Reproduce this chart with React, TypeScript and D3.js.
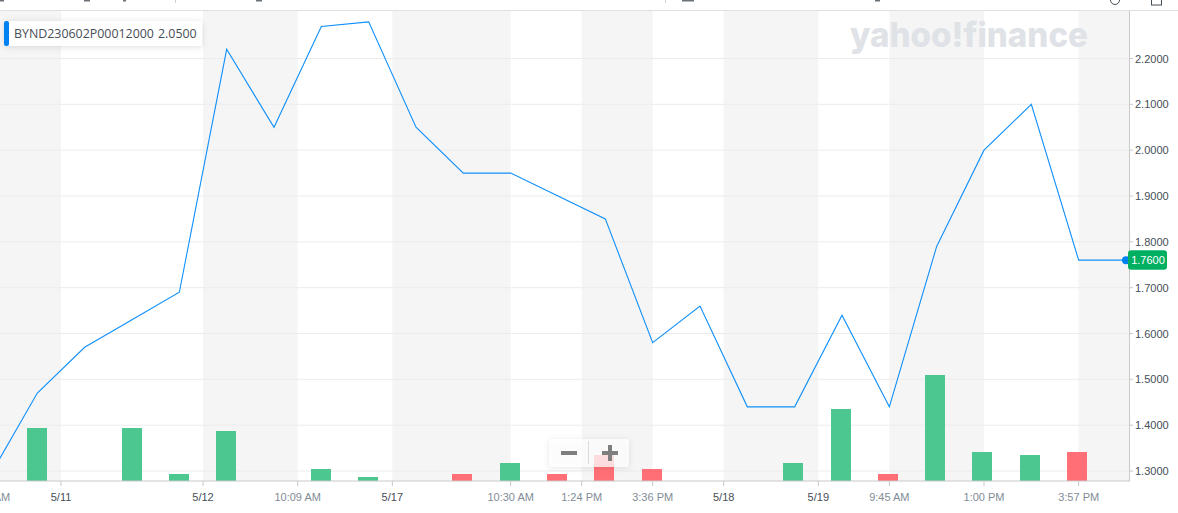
import * as d3 from "d3";
import { useEffect, useRef } from "react";

const w = 1178;
const h = 513;

const lineValues = [1.29, 1.47, 1.57, 1.63, 1.69, 2.22, 2.05, 2.27, 2.28, 2.05, 1.95, 1.95, 1.9, 1.85, 1.58, 1.66, 1.44, 1.44, 1.64, 1.44, 1.79, 2.0, 2.1, 1.76, 1.76];

const volumeSlots = [1, 3, 4, 5, 7, 8, 10, 11, 12, 13, 14, 17, 18, 19, 20, 21, 22, 23];
const volumeValues = [15, 15, 2, 14.2, 3.4, 1.2, 2, 5.1, 2, 7.4, 3.4, 5.1, 20.4, 2, 30, 8.2, 7.4, 8.2];
const volumeUp = [true, true, true, true, true, true, false, true, false, false, false, true, true, false, true, true, true, false];

const yTicks = [1.3, 1.4, 1.5, 1.6, 1.7, 1.8, 1.9, 2.0, 2.1, 2.2];

const xTickSlots = [0, 1.5, 4.5, 6.5, 8.5, 11, 12.5, 14, 15.5, 17.5, 19, 21, 23];
const xTickLabels = ["9:30 AM", "5/11", "5/12", "10:09 AM", "5/17", "10:30 AM", "1:24 PM", "3:36 PM", "5/18", "5/19", "9:45 AM", "1:00 PM", "3:57 PM"];

const seriesName = "BYND230602P00012000";
const hoverValue = "2.0500";

const font = "'Liberation Sans', Arial, sans-serif";

const App = () => {
  const svgRef = useRef<SVGSVGElement | null>(null);

  useEffect(() => {
    if (!svgRef.current) return;
    const svg = d3.select(svgRef.current);
    svg.selectAll("*").remove();

    const m = { top: 11, right: 1130, bottom: 481 };

    const x = d3.scaleLinear().domain([0, 24]).range([-10, 1126]);
    const xBar = d3.scaleLinear().domain([1, 23]).range([37, 1077]);
    const y = d3.scaleLinear().domain([1.3, 2.2]).range([471, 58.5]);
    const yVol = d3.scaleLinear().domain([0, 30]).range([m.bottom, 375]);

    const defs = svg.append("defs");
    const shadow = defs.append("filter").attr("id", "soft").attr("x", "-20%").attr("y", "-40%").attr("width", "140%").attr("height", "180%");
    shadow.append("feDropShadow").attr("dx", 0).attr("dy", 1).attr("stdDeviation", 3).attr("flood-color", "#000").attr("flood-opacity", 0.13);

    // bits of the page header that the crop leaves behind
    const header = svg.append("g").attr("fill", "#464e56");
    [[0, 4], [84, 6], [123, 3], [256, 6], [682, 12], [875, 5]].forEach(([px, pw]) => {
      header.append("rect").attr("x", px).attr("y", 0).attr("width", pw).attr("height", 1.5).attr("opacity", 0.8);
    });
    [175, 665].forEach(px => {
      header.append("rect").attr("x", px).attr("y", 0).attr("width", 1).attr("height", 3).attr("fill", "#d0d0d0");
    });
    svg.append("circle").attr("cx", 1115).attr("cy", 0).attr("r", 4.5).attr("fill", "none").attr("stroke", "#464e56");
    svg.append("rect").attr("x", 1151.5).attr("y", -6).attr("width", 10).attr("height", 11).attr("fill", "none").attr("stroke", "#464e56");

    // session bands, every other gap between ticks
    const bandEdges = [...xTickSlots.slice(1), 24];
    let from = 0;
    bandEdges.forEach((edge, i) => {
      if (i % 2 === 0) {
        const x0 = Math.max(0, x(from));
        const x1 = Math.min(m.right, x(edge));
        svg.append("rect").attr("x", x0).attr("y", m.top).attr("width", x1 - x0).attr("height", m.bottom - m.top).attr("fill", "#f5f5f5");
      }
      from = edge;
    });
    svg.append("rect").attr("x", x(23)).attr("y", m.top).attr("width", m.right - x(23)).attr("height", m.bottom - m.top).attr("fill", "#f5f5f5");

    // watermark
    svg.append("text")
      .attr("x", 850).attr("y", 47)
      .attr("font-family", "Inter, 'Open Sans', sans-serif").attr("font-weight", 800).attr("font-size", 34)
      .attr("textLength", 238).attr("lengthAdjust", "spacingAndGlyphs")
      .attr("fill", "#dfe2e6")
      .text("yahoo!finance");

    // grid
    svg.append("g").selectAll("line").data(yTicks).enter().append("line")
      .attr("x1", 0).attr("x2", m.right)
      .attr("y1", d => y(d)).attr("y2", d => y(d))
      .attr("stroke", "#ececec").attr("stroke-width", 1);

    // volume
    svg.append("g").selectAll("rect").data(volumeValues).enter().append("rect")
      .attr("x", (_, i) => Math.round(xBar(volumeSlots[i]) - 10))
      .attr("y", d => Math.round(yVol(d)))
      .attr("width", 20)
      .attr("height", d => m.bottom - Math.round(yVol(d)))
      .attr("fill", (_, i) => (volumeUp[i] ? "#4cc790" : "#ff6f75"));

    // price line
    const line = d3.line<number>().x((_, i) => x(i)).y(d => y(d));
    svg.append("path").datum(lineValues)
      .attr("d", line)
      .attr("fill", "none").attr("stroke", "#0f8ffa").attr("stroke-width", 1.1);

    // top + axis frame
    svg.append("line").attr("x1", 0).attr("x2", w).attr("y1", 10.5).attr("y2", 10.5).attr("stroke", "#e0e0e0");
    svg.append("line").attr("x1", 0).attr("x2", m.right).attr("y1", m.bottom).attr("y2", m.bottom).attr("stroke", "#c9c9c9").attr("stroke-width", 1);
    svg.append("line").attr("x1", m.right - 0.5).attr("x2", m.right - 0.5).attr("y1", m.top).attr("y2", m.bottom).attr("stroke", "#c9c9c9").attr("stroke-width", 1);

    // y axis
    const yAxis = svg.append("g").attr("font-family", font).attr("font-size", 11).attr("fill", "#464e56");
    yAxis.selectAll("line").data(yTicks).enter().append("line")
      .attr("x1", m.right).attr("x2", m.right + 3)
      .attr("y1", d => y(d)).attr("y2", d => y(d))
      .attr("stroke", "#c9c9c9");
    yAxis.selectAll("text").data(yTicks).enter().append("text")
      .attr("x", m.right + 5).attr("y", d => y(d) + 4)
      .text(d => d.toFixed(4));

    // x axis
    const xAxis = svg.append("g").attr("font-family", font).attr("font-size", 11);
    xAxis.selectAll("line").data(xTickSlots).enter().append("line")
      .attr("x1", d => x(d)).attr("x2", d => x(d))
      .attr("y1", m.bottom).attr("y2", m.bottom + 5)
      .attr("stroke", "#c9c9c9");
    xAxis.selectAll("text").data(xTickSlots).enter().append("text")
      .attr("x", d => x(d)).attr("y", 500.5).attr("text-anchor", "middle")
      .attr("fill", (_, i) => (xTickLabels[i].includes("/") ? "#464e56" : "#828c96"))
      .text((_, i) => xTickLabels[i]);

    // last value marker
    const last = lineValues[lineValues.length - 1];
    svg.append("circle").attr("cx", x(24)).attr("cy", y(last)).attr("r", 4).attr("fill", "#0081f2");
    svg.append("rect").attr("x", 1128).attr("y", y(last) - 10).attr("width", 39).attr("height", 19.5).attr("rx", 3).attr("fill", "#00b061");
    svg.append("text").attr("x", 1148).attr("y", y(last) + 4).attr("text-anchor", "middle")
      .attr("font-family", font).attr("font-size", 11).attr("fill", "#fff").text(last.toFixed(4));

    // legend
    svg.append("rect").attr("x", 4).attr("y", 21).attr("width", 198).attr("height", 25).attr("rx", 3).attr("fill", "#fff").attr("filter", "url(#soft)");
    svg.append("rect").attr("x", 4).attr("y", 21).attr("width", 5).attr("height", 25).attr("rx", 2).attr("fill", "#0081f2");
    svg.append("text").attr("x", 14).attr("y", 38)
      .attr("font-family", "'Open Sans', sans-serif").attr("font-size", 12.4).attr("font-weight", 500).attr("fill", "#464e56")
      .text(seriesName);
    svg.append("text").attr("x", 158).attr("y", 38)
      .attr("font-family", "'Open Sans', sans-serif").attr("font-size", 12.4).attr("font-weight", 500).attr("fill", "#464e56")
      .text(hoverValue);

    // zoom control
    const zoomBox = svg.append("g");
    zoomBox.append("rect").attr("x", 549).attr("y", 439).attr("width", 80).attr("height", 28).attr("rx", 3)
      .attr("fill", "#fff").attr("fill-opacity", 0.75).attr("filter", "url(#soft)");
    zoomBox.append("line").attr("x1", 588.5).attr("x2", 588.5).attr("y1", 441).attr("y2", 464).attr("stroke", "#dcdcdc");
    zoomBox.append("rect").attr("x", 561).attr("y", 451).attr("width", 16).attr("height", 4).attr("fill", "#7f7f7f");
    zoomBox.append("rect").attr("x", 602).attr("y", 451).attr("width", 16).attr("height", 4).attr("fill", "#7f7f7f");
    zoomBox.append("rect").attr("x", 608).attr("y", 445).attr("width", 4).attr("height", 16).attr("fill", "#7f7f7f");
  }, []);

  return (
    <svg
      ref={svgRef}
      width={w}
      height={h}
      viewBox={`0 0 ${w} ${h}`}
      style={{ position: "absolute", left: 0, top: 0, background: "#fff" }}
    ></svg>
  );
};

export default App;
